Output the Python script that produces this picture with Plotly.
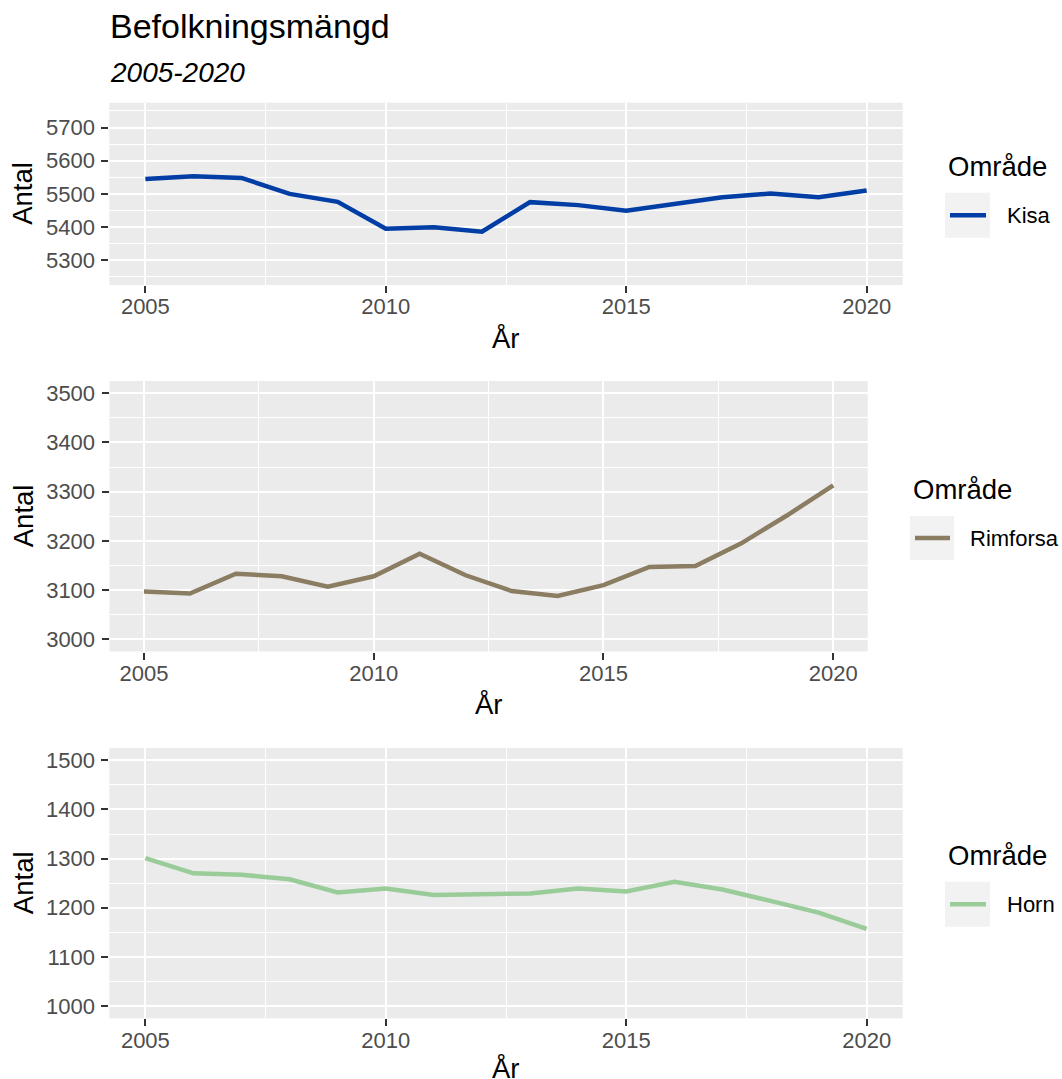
import plotly.graph_objects as go

# ---------------- data ----------------
years = [2005, 2006, 2007, 2008, 2009, 2010, 2011, 2012,
         2013, 2014, 2015, 2016, 2017, 2018, 2019, 2020]
kisa = [5545, 5553, 5548, 5500, 5476, 5395, 5399, 5386,
        5475, 5466, 5449, 5469, 5490, 5501, 5490, 5510]
rimforsa = [3097, 3093, 3133, 3128, 3107, 3128, 3174, 3130,
            3098, 3088, 3110, 3147, 3149, 3195, 3252, 3313]
horn = [1301, 1270, 1267, 1258, 1231, 1239, 1226, 1227,
        1229, 1239, 1233, 1253, 1237, 1214, 1190, 1157]

areas = ["Kisa", "Rimforsa", "Horn"]
series = [kisa, rimforsa, horn]
colors = ["#003DA5", "#8B7D62", "#99CC99"]
y_ticks = [[5300, 5400, 5500, 5600, 5700],
           [3000, 3100, 3200, 3300, 3400, 3500],
           [1000, 1100, 1200, 1300, 1400, 1500]]
y_ranges = [[5225, 5775], [2975, 3525], [975, 1525]]
x_ticks = [2005, 2010, 2015, 2020]

title = "Befolkningsmängd"
subtitle = "2005-2020"
legend_title = "Område"
x_title = "År"
y_title = "Antal"

# ---------------- layout geometry (pixels) ----------------
W, H = 1062, 1079
FONT = "Liberation Sans, Arial, sans-serif"


def X(px):
    return px / W


def Y(py):
    return 1 - py / H


# panels: left, right, top, bottom
panels = [(109.3, 902.7, 102.7, 285.0),
          (109.5, 867.7, 381.0, 651.5),
          (109.3, 902.7, 748.0, 1018.3)]
# x-title offset below each panel
xtitle_off = [53, 53, 50]
# legends: title left, title center y, key rect (x0, x1, y0, y1), text left
legends = [(946.7, 166.7, (945, 990, 192.7, 237.7), 1006),
           (911.7, 489.0, (910, 954, 516.0, 560.0), 969.3),
           (946.7, 855.0, (945, 990, 881.7, 926.7), 1006)]

fig = go.Figure()
layout = dict(
    width=W, height=H,
    margin=dict(l=0, r=0, t=0, b=0),
    paper_bgcolor="white",
    plot_bgcolor="#EBEBEB",
    showlegend=False,
    font=dict(family=FONT, color="black"),
)
shapes = []
annotations = []

for i, (name, vals, col) in enumerate(zip(areas, series, colors)):
    n = "" if i == 0 else str(i + 1)
    fig.add_trace(go.Scatter(
        x=years, y=vals, mode="lines", name=name,
        line=dict(color=col, width=4.5),
        xaxis="x" + n, yaxis="y" + n,
        showlegend=False,
    ))
    l, r, t, b = panels[i]
    layout["xaxis" + n] = dict(
        domain=[X(l), X(r)], anchor="y" + n,
        range=[2004.25, 2020.75],
        tickmode="array", tickvals=x_ticks,
        ticks="outside", ticklen=7, tickwidth=2, tickcolor="#333333",
        tickfont=dict(size=22, color="#4D4D4D", family=FONT),
        ticklabelstandoff=-5,
        showgrid=True, gridcolor="white", gridwidth=2,
        minor=dict(tickmode="array", tickvals=[2007.5, 2012.5, 2017.5],
                   showgrid=True, gridcolor="white", gridwidth=1, ticks=""),
        showline=False, zeroline=False,
        fixedrange=True,
    )
    yt = y_ticks[i]
    minor_vals = [v + 50 for v in yt[:-1]]
    minor_vals = [yt[0] - 50] + minor_vals + [yt[-1] + 50]
    layout["yaxis" + n] = dict(
        domain=[Y(b), Y(t)], anchor="x" + n,
        range=y_ranges[i],
        tickmode="array", tickvals=yt,
        ticks="outside", ticklen=7, tickwidth=2, tickcolor="#333333",
        tickfont=dict(size=22, color="#4D4D4D", family=FONT),
        ticklabelstandoff=2,
        showgrid=True, gridcolor="white", gridwidth=2,
        minor=dict(tickmode="array", tickvals=minor_vals,
                   showgrid=True, gridcolor="white", gridwidth=1, ticks=""),
        showline=False, zeroline=False,
        fixedrange=True,
    )
    # axis titles
    annotations.append(dict(text=y_title, xref="paper", yref="paper",
                            x=X(23), y=Y((t + b) / 2), textangle=-90,
                            xanchor="center", yanchor="middle", showarrow=False,
                            font=dict(size=27.5, color="black", family=FONT)))
    annotations.append(dict(text=x_title, xref="paper", yref="paper",
                            x=X((l + r) / 2), y=Y(b + xtitle_off[i]),
                            xanchor="center", yanchor="middle", showarrow=False,
                            font=dict(size=27.5, color="black", family=FONT)))
    # legend (ggplot-style, one per panel)
    tl, ty, (kx0, kx1, ky0, ky1), txl = legends[i]
    annotations.append(dict(text=legend_title, xref="paper", yref="paper",
                            x=X(tl), y=Y(ty), xanchor="left", yanchor="middle",
                            showarrow=False, borderpad=0,
                            font=dict(size=27.5, color="black", family=FONT)))
    shapes.append(dict(type="rect", xref="paper", yref="paper",
                       x0=X(kx0), x1=X(kx1), y0=Y(ky1), y1=Y(ky0),
                       fillcolor="#F2F2F2", line=dict(width=0)))
    kyc = (ky0 + ky1) / 2
    shapes.append(dict(type="line", xref="paper", yref="paper",
                       x0=X(kx0 + 5), x1=X(kx1 - 4), y0=Y(kyc), y1=Y(kyc),
                       line=dict(color=col, width=4.5)))
    annotations.append(dict(text=name, xref="paper", yref="paper",
                            x=X(txl), y=Y(kyc), xanchor="left", yanchor="middle",
                            showarrow=False, borderpad=0,
                            font=dict(size=22, color="black", family=FONT)))

annotations.append(dict(text=title, xref="paper", yref="paper",
                        x=X(109), y=Y(26), xanchor="left", yanchor="middle",
                        showarrow=False, borderpad=0,
                        font=dict(size=34, color="black", family=FONT)))
annotations.append(dict(text="<i>" + subtitle + "</i>", xref="paper", yref="paper",
                        x=X(109), y=Y(72.5), xanchor="left", yanchor="middle",
                        showarrow=False, borderpad=0,
                        font=dict(size=28, color="black", family=FONT)))

layout["shapes"] = shapes
layout["annotations"] = annotations
fig.update_layout(**layout)
fig.write_html("out.html", config={"displayModeBar": False},
               post_script="document.body.style.margin='0';"
                           "document.body.style.overflow='hidden';")
